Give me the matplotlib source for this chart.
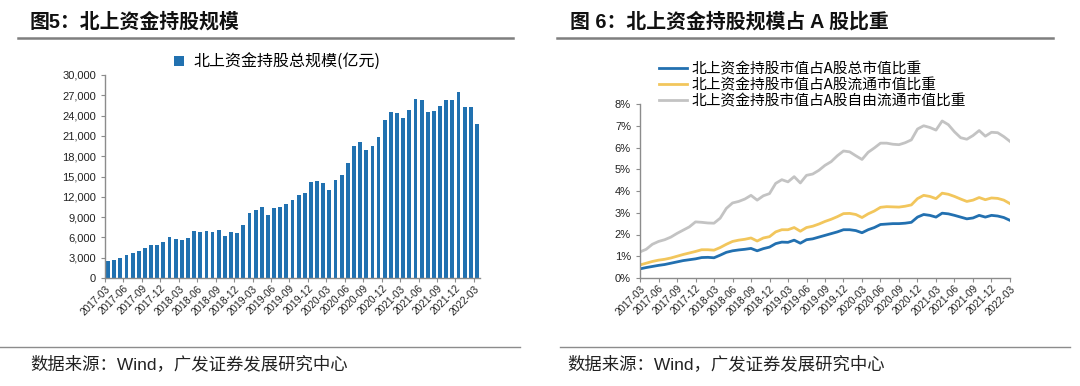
import matplotlib
matplotlib.use("Agg")
import matplotlib.pyplot as plt
import numpy as np
from matplotlib.lines import Line2D
from matplotlib.ticker import FuncFormatter

plt.rcParams["font.family"] = ["Liberation Sans", "Noto Sans CJK SC"]

# 2017-03 .. 2022-03, monthly
months = [f"{y}-{m:02d}" for y in range(2017, 2023) for m in range(1, 13)]
months = months[months.index("2017-03"):months.index("2022-03") + 1]
tick_labels = months[::3]

holding_total = [
    2500, 2700, 3000, 3450, 3650, 4050, 4400, 4900, 4950, 5250,
    6000, 5750, 5650, 5900, 6900, 6800, 7000, 6800, 7150, 6250,
    6800, 6700, 7850, 9550, 10100, 10500, 9250, 10400, 10500, 10900,
    11550, 12250, 12600, 14200, 14300, 14100, 13000, 14550, 15200, 17050,
    19500, 20100, 18950, 19500, 20800, 23400, 24550, 24450, 23600, 24800,
    26450, 26300, 24550, 24750, 25400, 26300, 26300, 27500, 25250, 25300,
    22750,
]

share_total = [
    0.42, 0.48, 0.53, 0.58, 0.62, 0.68, 0.74, 0.80, 0.84, 0.88,
    0.94, 0.95, 0.93, 1.05, 1.18, 1.25, 1.29, 1.32, 1.36, 1.25,
    1.35, 1.42, 1.58, 1.65, 1.64, 1.74, 1.60, 1.76, 1.80, 1.88,
    1.96, 2.04, 2.12, 2.22, 2.22, 2.18, 2.08, 2.22, 2.32, 2.46,
    2.48, 2.50, 2.50, 2.52, 2.56, 2.80, 2.92, 2.88, 2.80, 2.98,
    2.95, 2.88, 2.80, 2.72, 2.76, 2.88, 2.80, 2.88, 2.85, 2.78,
    2.65,
]
share_float = [
    0.60, 0.68, 0.76, 0.82, 0.86, 0.92, 1.00, 1.08, 1.15, 1.22,
    1.30, 1.30, 1.28, 1.40, 1.55, 1.68, 1.74, 1.78, 1.84, 1.70,
    1.84, 1.90, 2.12, 2.22, 2.22, 2.32, 2.15, 2.32, 2.38, 2.48,
    2.60, 2.70, 2.82, 2.96, 2.97, 2.92, 2.78, 2.95, 3.08, 3.25,
    3.28, 3.27, 3.26, 3.30, 3.36, 3.65, 3.80, 3.75, 3.65, 3.90,
    3.85, 3.75, 3.63, 3.52, 3.58, 3.70, 3.60, 3.68, 3.66, 3.58,
    3.42,
]
share_free = [
    1.20, 1.32, 1.55, 1.68, 1.76, 1.88, 2.05, 2.20, 2.35, 2.58,
    2.56, 2.53, 2.52, 2.75, 3.20, 3.45, 3.52, 3.63, 3.80, 3.58,
    3.78, 3.88, 4.35, 4.52, 4.42, 4.66, 4.37, 4.72, 4.78, 4.95,
    5.18, 5.35, 5.62, 5.84, 5.80, 5.62, 5.45, 5.78, 5.98, 6.20,
    6.20, 6.15, 6.13, 6.22, 6.35, 6.85, 7.00, 6.92, 6.80, 7.22,
    7.05, 6.72, 6.45, 6.38, 6.55, 6.78, 6.52, 6.70, 6.68, 6.50,
    6.28,
]

line_names = [
    "北上资金持股市值占A股总市值比重",
    "北上资金持股市值占A股流通市值比重",
    "北上资金持股市值占A股自由流通市值比重",
]
line_colors = ["#2270b0", "#f2c65c", "#c3c3c3"]
bar_color = "#2171b0"
axis_gray = "#8c8c8c"

W, H = 1080, 386
fig = plt.figure(figsize=(W / 100, H / 100), dpi=100)


def fx(px):
    return px / W


def fy(py):
    return 1 - py / H


def style_axes(ax):
    for side in ["top", "right"]:
        ax.spines[side].set_visible(False)
    for side in ["left", "bottom"]:
        ax.spines[side].set_color(axis_gray)
        ax.spines[side].set_linewidth(1.0)
    ax.tick_params(axis="both", colors=axis_gray, length=3, width=0.8, labelcolor="#222222", labelsize=8)
    ax.tick_params(axis="x", labelsize=7.3, pad=1)


# ---- left: bars ----
ax1 = fig.add_axes([fx(105), fy(278), fx(480 - 105), (278 - 75) / H])
x = np.arange(len(months))
ax1.bar(x, holding_total, width=0.62, color=bar_color, label="北上资金持股总规模(亿元)")
ax1.set_xlim(-0.5, len(months) - 0.5)
ax1.set_ylim(0, 30000)
ax1.set_yticks(np.arange(0, 30001, 3000))
ax1.yaxis.set_major_formatter(FuncFormatter(lambda v, p: f"{int(v):,}"))
ax1.set_xticks(x[::3] - 0.5)
ax1.set_xticklabels(tick_labels, rotation=45, ha="right", rotation_mode="anchor")
style_axes(ax1)
ax1.legend(loc="center", bbox_to_anchor=(fx(277), fy(62)), bbox_transform=fig.transFigure,
           frameon=False, prop={"family": ["Noto Sans CJK SC"], "size": 11.5},
           handlelength=0.6, handleheight=0.6, handletextpad=0.6)

# ---- right: lines ----
ax2 = fig.add_axes([fx(640), fy(278), fx(1010 - 640), (278 - 104) / H])
for vals, name, col in zip([share_total, share_float, share_free], line_names, line_colors):
    ax2.plot(x, vals, color=col, linewidth=2.0, label=name)
ax2.set_xlim(0, len(months) - 1)
ax2.set_ylim(0, 8)
ax2.set_yticks(np.arange(0, 9, 1))
ax2.yaxis.set_major_formatter(FuncFormatter(lambda v, p: f"{int(v)}%"))
ax2.set_xticks(x[::3])
ax2.set_xticklabels(tick_labels, rotation=45, ha="right", rotation_mode="anchor")
style_axes(ax2)
ax2.legend(loc="upper left", bbox_to_anchor=(fx(652), fy(55)), bbox_transform=fig.transFigure,
           frameon=False, prop={"family": ["Noto Sans CJK SC"], "size": 10.6},
           handlelength=1.9, handletextpad=0.3, labelspacing=0.12, borderpad=0)

# ---- titles, rules, sources ----
title_font = ["Liberation Sans", "Noto Sans CJK SC"]
fig.text(fx(30), fy(22), "图5：北上资金持股规模", fontsize=14.3, fontweight="bold",
         family=title_font, va="center", ha="left", color="#111111")
fig.text(fx(570), fy(22), "图 6：北上资金持股规模占 A 股比重", fontsize=14.3, fontweight="bold",
         family=title_font, va="center", ha="left", color="#111111")

fig.add_artist(Line2D([fx(18), fx(513)], [fy(38), fy(38)], color="#7f7f7f", linewidth=1.8))
fig.add_artist(Line2D([fx(557), fx(1053)], [fy(38), fy(38)], color="#7f7f7f", linewidth=1.8))
fig.add_artist(Line2D([fx(0), fx(520)], [fy(347), fy(347)], color="#8c8c8c", linewidth=1.0))
fig.add_artist(Line2D([fx(560), fx(1070)], [fy(347), fy(347)], color="#8c8c8c", linewidth=1.0))

src = "数据来源：Wind，广发证券发展研究中心"
fig.text(fx(30), fy(364), src, fontsize=12.5, family=title_font, va="center", ha="left", color="#222222")
fig.text(fx(567), fy(364), src, fontsize=12.5, family=title_font, va="center", ha="left", color="#222222")

fig.savefig("out.png", dpi=100, facecolor="white")
